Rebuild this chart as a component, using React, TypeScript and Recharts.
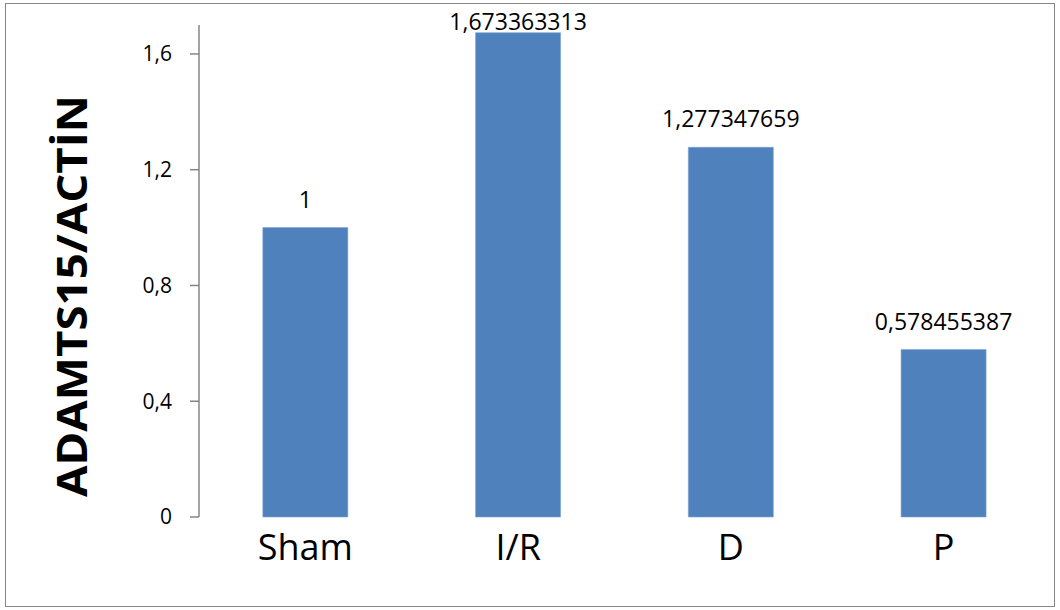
import { BarChart, Bar, XAxis, YAxis, LabelList } from "recharts";

const groups = ["Sham", "I/R", "D", "P"];
const ratios = [1, 1.673363313, 1.277347659, 0.578455387];
const yTicks = [0, 0.4, 0.8, 1.2, 1.6];

const data = groups.map((g, i) => ({ group: g, value: ratios[i] }));

const FONT = "'Open Sans', sans-serif";
const AXIS_GRAY = "#868686";
const BAR_BLUE = "#4F81BD";

const comma = (v: number) => String(v).replace(".", ",");

const GroupTick = (props: any) => {
  const { x, y, payload } = props;
  return (
    <text x={x} y={y + 43} textAnchor="middle" fontFamily={FONT} fontSize={36} fill="#000">
      {payload.value}
    </text>
  );
};

const ValueLabel = (props: any) => {
  const { x, y, width, value } = props;
  // keep the tallest label inside the frame
  const ty = Math.max(y - 20, 30);
  return (
    <text x={x + width / 2} y={ty} textAnchor="middle" fontFamily={FONT} fontSize={23} fill="#000">
      {comma(value)}
    </text>
  );
};

const AxisTitle = (props: any) => {
  const { viewBox } = props;
  const cx = 87;
  const cy = viewBox.y + viewBox.height / 2 + 25;
  return (
    <text
      x={cx}
      y={cy}
      transform={`rotate(-90, ${cx}, ${cy})`}
      textAnchor="middle"
      fontFamily={FONT}
      fontWeight={700}
      fontSize={42}
      textLength={402}
      lengthAdjust="spacingAndGlyphs"
      fill="#000"
    >
      ADAMTS15/ACTİN
    </text>
  );
};

export default function App() {
  return (
    <div style={{ position: "fixed", left: 0, top: 0, width: 1060, height: 610, background: "#fff" }}>
      <div
        style={{
          position: "absolute",
          left: 5,
          top: 3,
          width: 1050,
          height: 604,
          border: "1.5px solid #878787",
          boxSizing: "border-box",
        }}
      />
      <BarChart
        width={1060}
        height={610}
        data={data}
        margin={{ top: 25, right: 10, bottom: 0, left: 0 }}
        barCategoryGap="30%"
        style={{ position: "absolute", left: 0, top: 0 }}
      >
        <XAxis
          dataKey="group"
          height={93}
          axisLine={false}
          tickLine={false}
          tickSize={0}
          tickMargin={0}
          tick={<GroupTick />}
        />
        <YAxis
          width={199}
          domain={[0, 1.7]}
          ticks={yTicks}
          tickFormatter={comma}
          axisLine={{ stroke: AXIS_GRAY, strokeWidth: 1.5 }}
          tickLine={{ stroke: AXIS_GRAY, strokeWidth: 1.5 }}
          tickSize={9}
          tickMargin={18}
          tick={{ fill: "#000", fontSize: 21, fontFamily: FONT }}
          label={<AxisTitle />}
        />
        <Bar dataKey="value" fill={BAR_BLUE} stroke="#7ea1d0" strokeWidth={0.6} isAnimationActive={false}>
          <LabelList dataKey="value" content={<ValueLabel />} />
        </Bar>
      </BarChart>
    </div>
  );
}
